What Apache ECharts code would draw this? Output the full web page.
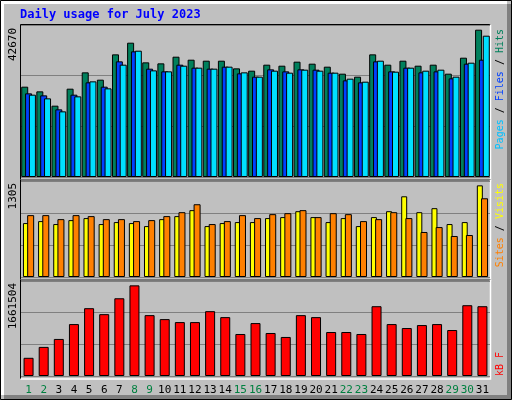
<!DOCTYPE html>
<html>
<head>
<meta charset="utf-8">
<script src="https://cdn.jsdelivr.net/npm/echarts@6/dist/echarts.min.js"></script>
<style>html,body{margin:0;padding:0;background:#c0c0c0}#chart{width:512px;height:400px}</style>
</head>
<body>
<div id="chart"></div>
<script>
var days = ['1','2','3','4','5','6','7','8','9','10','11','12','13','14','15','16','17','18','19','20','21','22','23','24','25','26','27','28','29','30','31'];
var weekend = [1,2,8,9,15,16,22,23,29,30];
var hits = [26162,24811,20660,25583,30314,28190,35527,38906,33210,32920,34851,33982,33692,33692,31472,30796,32534,32244,33403,32824,31955,29927,29059,35527,32534,33692,32244,32534,29927,34561,42670];
var files = [24232,23652,19598,23845,27417,26162,33499,36396,31376,30603,32534,31665,31376,31955,30024,29059,31182,30603,31182,31086,30217,27997,27417,33499,30603,31665,30314,30603,28576,32824,33982];
var pages = [23845,22783,19018,23363,27707,25680,32534,36589,30893,30603,32244,31665,31376,31955,30314,29059,30796,30217,31086,30796,30217,28479,27610,33692,30507,31665,30796,31086,29059,33113,40933];
var visits = [768,796,754,810,839,754,782,768,725,824,867,952,725,768,782,782,839,853,937,853,782,839,725,853,937,1149,923,980,754,782,1305];
var sites = [881,881,824,881,867,824,824,796,810,867,923,1036,754,796,881,839,895,909,952,853,909,895,796,824,923,839,641,711,584,598,1121];
var kbytes = [333520,533632,679168,952048,1243120,1133968,1425040,1661504,1115776,1043008,988432,988432,1188544,1079392,770128,970240,788320,715552,1115776,1079392,806512,806512,770128,1279504,952048,879280,933856,952048,842896,1297696,1279504];
var maxLabels = ['42670', '1305', '1661504'];

var chart = echarts.init(document.getElementById('chart'));
var mono = 'DejaVu Sans Mono';
var split = {show: true, lineStyle: {color: '#808080', width: 1}};
function xAxis(i, show) {
  return {
    type: 'category', gridIndex: i, data: days,
    axisLine: {show: false}, axisTick: {show: false},
    axisLabel: {
      show: show, interval: 0, fontFamily: mono, fontSize: 11, margin: 9,
      color: function (v) { return weekend.indexOf(+v) >= 0 ? '#008040' : '#000'; }
    }
  };
}
function yAxis(i, max) {
  return {type: 'value', gridIndex: i, min: 0, max: max, interval: max / 3,
    axisLabel: {show: false}, axisLine: {show: false}, axisTick: {show: false}, splitLine: split};
}
function bar(name, data, color, xi, w, gap) {
  return {name: name, type: 'bar', xAxisIndex: xi, yAxisIndex: xi, data: data,
    barWidth: w, barGap: gap, animation: false,
    itemStyle: {color: color, borderColor: '#000', borderWidth: 1}};
}
function vtext(x, y, parts, size) {
  var rich = {}, s = '';
  parts.forEach(function (p, k) { rich['p' + k] = {fill: p[1], fontFamily: mono, fontSize: size || 11}; s += '{p' + k + '|' + p[0] + '}'; });
  return {type: 'text', x: x, y: y, rotation: Math.PI / 2,
    style: {text: s, rich: rich, align: 'right', verticalAlign: 'middle'}};
}

chart.setOption({
  backgroundColor: '#c0c0c0',
  grid: [
    {left: 21, right: 22, top: 25, height: 152},
    {left: 21, right: 22, top: 181, height: 96},
    {left: 21, right: 22, top: 281, height: 95}
  ],
  xAxis: [xAxis(0, false), xAxis(1, false), xAxis(2, true)],
  yAxis: [yAxis(0, 44030), yAxis(1, 1367), yAxis(2, 1741600)],
  series: [
    bar('Hits', hits, '#00805c', 0, 7, '-45%'),
    bar('Files', files, '#0040ff', 0, 7, '-45%'),
    bar('Pages', pages, '#00e0ff', 0, 7, '-45%'),
    bar('Visits', visits, '#ffff00', 1, 6, '-30%'),
    bar('Sites', sites, '#ff8000', 1, 7, '-30%'),
    bar('KBytes', kbytes, '#ff0000', 2, 10, '0%')
  ],
  graphic: [
    {type: 'rect', shape: {x: 0.5, y: 0.5, width: 511, height: 399}, style: {fill: 'none', stroke: '#000'}},
    {type: 'rect', shape: {x: 507, y: 4, width: 4, height: 395}, style: {fill: '#808080'}},
    {type: 'rect', shape: {x: 4, y: 395, width: 507, height: 4}, style: {fill: '#808080'}},
    {type: 'rect', shape: {x: 1, y: 1, width: 506, height: 3}, style: {fill: '#fff'}},
    {type: 'rect', shape: {x: 1, y: 1, width: 3, height: 394}, style: {fill: '#fff'}},
    {type: 'polyline', shape: {points: [[20.5, 180], [20.5, 24.5], [490.5, 24.5]]}, style: {stroke: '#000', fill: 'none'}},
    {type: 'polyline', shape: {points: [[20.5, 180], [490.5, 180], [490.5, 24.5]]}, style: {stroke: '#fff', fill: 'none', lineWidth: 1.5}},
    {type: 'polyline', shape: {points: [[20.5, 280], [20.5, 180], [490.5, 180]]}, style: {stroke: '#000', fill: 'none'}},
    {type: 'polyline', shape: {points: [[20.5, 280], [490.5, 280], [490.5, 180]]}, style: {stroke: '#fff', fill: 'none', lineWidth: 1.5}},
    {type: 'polyline', shape: {points: [[20.5, 379], [20.5, 280], [490.5, 280]]}, style: {stroke: '#000', fill: 'none'}},
    {type: 'polyline', shape: {points: [[20.5, 379], [490.5, 379], [490.5, 280]]}, style: {stroke: '#fff', fill: 'none', lineWidth: 1.5}},
    {type: 'text', x: 20, y: 9, style: {text: 'Daily usage for July 2023', fill: '#0000ff', fontFamily: mono, fontWeight: 'bold', fontSize: 12}},
    vtext(13, 28, [[maxLabels[0], '#000']]),
    vtext(13, 183, [[maxLabels[1], '#000']]),
    vtext(13, 283, [[maxLabels[2], '#000']]),
    vtext(500, 29, [['Pages', '#00c0ff'], [' / ', '#000'], ['Files', '#0040ff'], [' / ', '#000'], ['Hits', '#00805c']], 10),
    vtext(500, 183, [['Sites', '#ff8000'], [' / ', '#000'], ['Visits', '#ffff00']], 10),
    vtext(500, 352, [['kB F', '#ff0000']], 10)
  ]
});
</script>
</body>
</html>
